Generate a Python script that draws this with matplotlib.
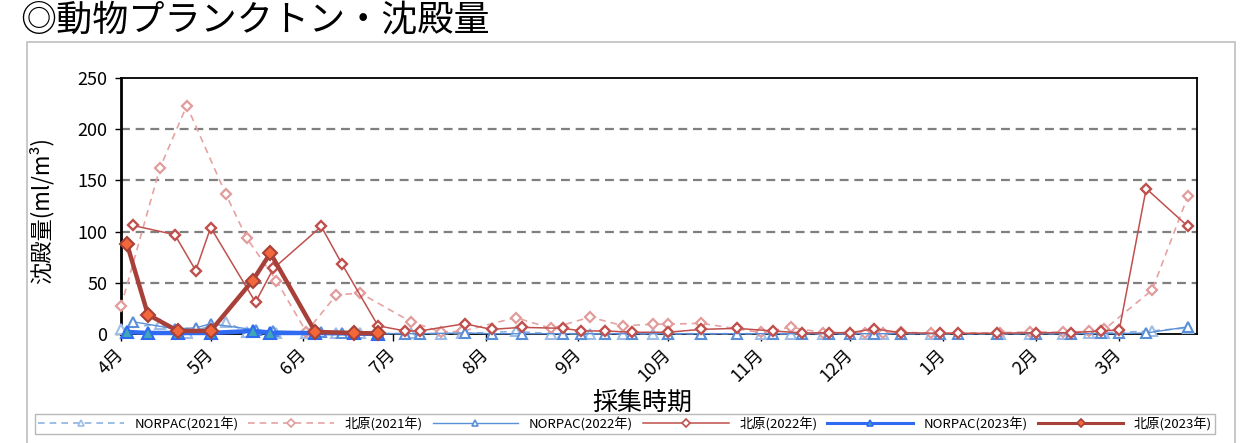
import matplotlib
matplotlib.use("Agg")
import matplotlib.pyplot as plt
import pandas as pd
from matplotlib.lines import Line2D
from matplotlib.patches import Rectangle

plt.rcParams['font.family'] = ['Noto Sans CJK JP', 'DejaVu Sans']

# ---------------- data ----------------
title = "◎動物プランクトン・沈殿量"
ylabel = "沈殿量(ml/m³)"
xlabel = "採集時期"

month_labels = ["4月", "5月", "6月", "7月", "8月", "9月", "10月", "11月", "12月", "1月", "2月", "3月"]
month_starts = ["04-01", "05-01", "06-01", "07-01", "08-01", "09-01", "10-01", "11-01", "12-01", "01-01", "02-01", "03-01"]
y_ticks = [0, 50, 100, 150, 200, 250]

kitahara2021_dates = ["04-01", "04-14", "04-23", "05-06", "05-13", "05-23", "06-02", "06-12", "06-20",
                      "07-07", "07-17", "07-24", "08-11", "08-23", "09-05", "09-16", "09-26", "10-01",
                      "10-12", "11-01", "11-11", "11-22", "12-06", "12-12", "12-18", "12-28", "01-20",
                      "01-30", "02-10", "02-19", "02-24", "03-12", "03-24"]
kitahara2021_vals = [27, 162, 223, 137, 94, 52, 2, 38, 40,
                     12, 2, 2.5, 16, 5.5, 16.5, 8, 9.5, 9.5,
                     10.5, 1.5, 6.5, 1.3, 1.3, 0.7, 2, 0.7, 1.3,
                     2, 1.7, 2.5, 4.5, 43, 135]

norpac2021_dates = ["04-01", "04-14", "04-23", "05-06", "05-13", "05-23", "06-02", "06-12", "06-20",
                    "07-07", "07-17", "07-24", "08-11", "08-23", "09-05", "09-16", "09-26", "10-01",
                    "10-12", "11-01", "11-11", "11-22", "12-06", "12-12", "12-18", "12-28", "01-20",
                    "01-30", "02-10", "02-19", "02-24", "03-12", "03-24"]
norpac2021_vals = [5, 10, 1, 12, 2, 1, 0.5, 1, 0.5,
                   0.5, 0.3, 0.5, 2.5, 0.3, 0.3, 0.3, 0.3, 0.3,
                   0.3, 0.3, 0.3, 0.3, 0.3, 0.3, 0.3, 0.3, 0.3,
                   0.3, 0.3, 0.5, 1, 3, 6]

kitahara2022_dates = ["04-05", "04-19", "04-26", "05-01", "05-16", "05-22", "06-07", "06-14", "06-26",
                      "07-05", "07-10", "07-25", "08-03", "08-13", "08-27", "09-02", "09-10", "09-19",
                      "10-01", "10-12", "10-24", "11-05", "11-15", "11-24", "12-01", "12-09", "12-18",
                      "12-31", "01-06", "01-19", "02-01", "02-13", "02-23", "03-01", "03-10", "03-24"]
kitahara2022_vals = [106, 97, 62, 104, 31, 64, 105, 68, 8,
                     3, 3, 10, 4.5, 6.5, 5.5, 3, 3, 1.7,
                     1.7, 4.5, 5.5, 3, 1, 1.3, 1.3, 5, 1.3,
                     0.7, 0.7, 0.7, 1.3, 1.3, 3, 4, 142, 105]

norpac2022_dates = ["04-05", "04-19", "04-26", "05-01", "05-16", "05-22", "06-07", "06-14", "06-26",
                    "07-05", "07-10", "07-25", "08-03", "08-13", "08-27", "09-02", "09-10", "09-19",
                    "10-01", "10-12", "10-24", "11-05", "11-15", "11-24", "12-01", "12-09", "12-18",
                    "12-31", "01-06", "01-19", "02-01", "02-13", "02-23", "03-01", "03-10", "03-24"]
norpac2022_vals = [12, 5, 6, 10, 4, 3, 1.5, 1, 0.5,
                   0.3, 0.3, 1, 0.3, 0.3, 0.3, 0.3, 0.3, 0.3,
                   0.3, 0.3, 0.3, 0.3, 0.3, 0.3, 0.3, 0.3, 0.3,
                   0.3, 0.3, 0.3, 0.3, 0.3, 0.5, 0.5, 1, 7]

norpac2023_dates = ["04-03", "04-10", "04-20", "05-01", "05-15", "05-21", "06-05", "06-18", "06-26"]
norpac2023_vals = [2, 1, 1, 1, 3, 1, 1, 0.5, 0]

kitahara2023_dates = ["04-03", "04-10", "04-20", "05-01", "05-15", "05-21", "06-05", "06-18", "06-26"]
kitahara2023_vals = [88, 19, 3, 3, 52, 79, 2, 1, 0.5]

series_labels = ["NORPAC(2021年)", "北原(2021年)", "NORPAC(2022年)", "北原(2022年)", "NORPAC(2023年)", "北原(2023年)"]


def day(mmdd):
    m = int(mmdd[:2])
    y = 2021 if m >= 4 else 2022
    return (pd.Timestamp(f"{y}-{mmdd}") - pd.Timestamp("2021-04-01")).days


# ---------------- figure ----------------
W, H = 1245, 443
fig = plt.figure(figsize=(W / 100, H / 100), dpi=100)

# outer chart frame
fig.patches.append(Rectangle((27 / W, -0.05), (1235 - 27) / W, 1.05 - 42 / H,
                             transform=fig.transFigure, fill=False, edgecolor="#BFBFBF", lw=1.2))

fig.text(20 / W, 1 - 21 / H, title, fontsize=26, ha="left", va="center", color="black")

ax = fig.add_axes([121 / W, 1 - 334 / H, (1197 - 121) / W, (334 - 78) / H])
ax.set_xlim(0, 360)
ax.set_ylim(0, 250)

# grid
for yv in y_ticks[1:-1]:
    ax.axhline(yv, color="#7F7F7F", lw=1.6, linestyle=(0, (4, 2.6)), zorder=1)

styles = [
    dict(color="#8DB3E2", ls=(0, (4, 3)), lw=1.2, marker="^", ms=7, mfc="white", mec="#9DBDE6", mew=1.5),
    dict(color="#E5A3A3", ls=(0, (4, 3)), lw=1.2, marker="D", ms=5.5, mfc="white", mec="#E29C9C", mew=1.6),
    dict(color="#5B8FD8", ls="-", lw=1.0, marker="^", ms=7, mfc="white", mec="#5B8FD8", mew=1.5),
    dict(color="#C0504D", ls="-", lw=1.1, marker="D", ms=5.5, mfc="white", mec="#C0504D", mew=1.7),
    dict(color="#2F6BF2", ls="-", lw=3.2, marker="^", ms=8.5, mfc="#3FA7B5", mec="#2F6BF2", mew=1.5),
    dict(color="#A8403A", ls="-", lw=3.2, marker="D", ms=7, mfc="#F2683A", mec="#A8403A", mew=1.5),
]
data = [
    (norpac2021_dates, norpac2021_vals),
    (kitahara2021_dates, kitahara2021_vals),
    (norpac2022_dates, norpac2022_vals),
    (kitahara2022_dates, kitahara2022_vals),
    (norpac2023_dates, norpac2023_vals),
    (kitahara2023_dates, kitahara2023_vals),
]
handles = []
for i, ((d, v), st, lab) in enumerate(zip(data, styles, series_labels)):
    x = [day(s) for s in d]
    ax.plot(x, v, linestyle=st["ls"], color=st["color"], lw=st["lw"], marker=st["marker"],
            ms=st["ms"], mfc=st["mfc"], mec=st["mec"], mew=st["mew"], zorder=3 + i, clip_on=False)
    handles.append(Line2D([], [], linestyle=st["ls"], color=st["color"], lw=min(st["lw"], 2.2),
                          marker=st["marker"], ms=4, mfc=st["mfc"], mec=st["mec"], mew=1.2,
                          label=lab))

# axes styling
for side in ["top", "right", "bottom"]:
    ax.spines[side].set_linewidth(1.3)
    ax.spines[side].set_color("black")
ax.spines["left"].set_linewidth(2.0)
ax.spines["top"].set_zorder(10)

ax.set_yticks(y_ticks)
ax.set_yticklabels([str(t) for t in y_ticks], fontsize=13)
ax.tick_params(axis="y", length=4, width=1, pad=6)
ax.set_xticks([day(s) for s in month_starts])
ax.set_xticklabels(month_labels, fontsize=13, rotation=45, ha="right", va="center",
                   rotation_mode="anchor")
ax.tick_params(axis="x", length=5, width=1, pad=8)

fig.text(41 / W, 1 - 211 / H, ylabel, fontsize=16, rotation=90, ha="center", va="center")
fig.text(642 / W, 1 - 403 / H, xlabel, fontsize=18, ha="center", va="center")

leg = fig.legend(handles=handles, loc="lower left",
                 bbox_to_anchor=(28 / W, 1 - 441 / H, (1222 - 28) / W, 23 / H),
                 mode="expand", ncol=6, fontsize=9.5, handlelength=6.5, handletextpad=0.8,
                 frameon=True, fancybox=False, borderpad=0.25, columnspacing=1.0)
leg.get_frame().set_edgecolor("#A6A6A6")
leg.get_frame().set_linewidth(1.0)

fig.savefig("out.png", dpi=100)
